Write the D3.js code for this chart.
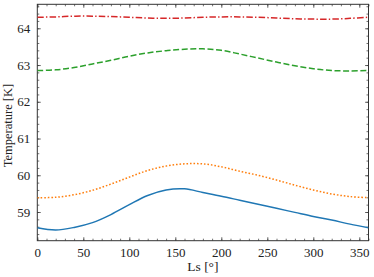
<!DOCTYPE html>
<html>
<head>
<meta charset="utf-8">
<script src="https://cdn.jsdelivr.net/npm/d3@7"></script>
<style>
  body { margin: 0; background: #fff; }
</style>
</head>
<body>
<div id="chart"></div>
<script>
// Values
const ls = [0, 20, 40, 60, 80, 100, 120, 140, 160, 180, 200, 220, 240, 260, 280, 300, 320, 340, 360]
const blue = [58.57, 58.51, 58.58, 58.71, 58.93, 59.20, 59.45, 59.60, 59.63, 59.53, 59.43, 59.32, 59.21, 59.10, 58.99, 58.88, 58.78, 58.67, 58.57]
const orange = [59.39, 59.40, 59.47, 59.59, 59.76, 59.95, 60.13, 60.25, 60.31, 60.31, 60.23, 60.11, 60.00, 59.87, 59.73, 59.60, 59.49, 59.42, 59.39]
const green = [62.85, 62.87, 62.93, 63.03, 63.13, 63.24, 63.33, 63.39, 63.43, 63.44, 63.40, 63.30, 63.19, 63.08, 62.98, 62.90, 62.85, 62.84, 62.85]
const red = [64.30, 64.31, 64.33, 64.33, 64.32, 64.30, 64.28, 64.27, 64.28, 64.30, 64.31, 64.31, 64.30, 64.28, 64.26, 64.25, 64.25, 64.27, 64.30]
const xTicks = [0, 50, 100, 150, 200, 250, 300, 350]
const yTicks = [59, 60, 61, 62, 63, 64]

const series = [
  { values: blue, color: '#1f77b4', dash: null },
  { values: orange, color: '#ff7f0e', dash: '1.6,1.9' },
  { values: green, color: '#2ca02c', dash: '6,2.6' },
  { values: red, color: '#d62728', dash: '6.5,2.2,1.4,2.2' }
]

const FONT = 'Liberation Serif'

let width = 374, height = 277
let margin = { top: 4.3, right: 5.5, bottom: 36.3, left: 37.3 },
    w = width - margin.left - margin.right,
    h = height - margin.top - margin.bottom

let svg = d3.select('#chart').append('svg')
    .attr('width', width)
    .attr('height', height)
    .attr('font-family', FONT)

let g = svg.append('g')
    .attr('transform', 'translate(' + margin.left + ',' + margin.top + ')')

let xScale = d3.scaleLinear().domain([0, 360]).range([0, w])
let yScale = d3.scaleLinear().domain([58.219, 64.653]).range([h, 0])

let xMinor = d3.range(0, 361, 10)
let yMinor = d3.range(58.4, 64.65, 0.2)

// Axes with inward ticks on all four sides
function styleAxis(sel) {
  sel.attr('font-family', FONT).attr('font-size', 13)
  sel.select('.domain').remove()
  sel.selectAll('.tick line').attr('stroke', '#333').attr('stroke-width', 0.7)
  sel.selectAll('text').attr('fill', '#222')
}

function addAxis(axisFn, scale, ticks, size, transform, labels) {
  let ax = axisFn(scale).tickValues(ticks).tickSize(-size).tickPadding(labels ? 7 : 0)
  ax.tickFormat(labels ? d3.format('d') : '')
  g.append('g').attr('transform', transform).call(ax).call(styleAxis)
}

addAxis(d3.axisBottom, xScale, xMinor, 2, 'translate(0,' + h + ')', false)
addAxis(d3.axisBottom, xScale, xTicks, 3.5, 'translate(0,' + h + ')', true)
addAxis(d3.axisTop, xScale, xMinor, 2, 'translate(0,0)', false)
addAxis(d3.axisTop, xScale, xTicks, 3.5, 'translate(0,0)', false)
addAxis(d3.axisLeft, yScale, yMinor, 2, 'translate(0,0)', false)
addAxis(d3.axisLeft, yScale, yTicks, 3.5, 'translate(0,0)', true)
addAxis(d3.axisRight, yScale, yMinor, 2, 'translate(' + w + ',0)', false)
addAxis(d3.axisRight, yScale, yTicks, 3.5, 'translate(' + w + ',0)', false)

// Plot frame
g.append('rect')
  .attr('width', w)
  .attr('height', h)
  .attr('fill', 'none')
  .attr('stroke', '#333')
  .attr('stroke-width', 1)

// Lines
let clip = g.append('clipPath').attr('id', 'clip')
clip.append('rect').attr('width', w).attr('height', h)

let line = d3.line()
    .x((d, i) => xScale(ls[i]))
    .y(d => yScale(d))
    .curve(d3.curveCatmullRom)

series.forEach(s => {
  g.append('path')
    .datum(s.values)
    .attr('clip-path', 'url(#clip)')
    .attr('fill', 'none')
    .attr('stroke', s.color)
    .attr('stroke-width', 1.5)
    .attr('stroke-dasharray', s.dash)
    .attr('d', line)
})

// Axis titles
g.append('text')
  .attr('x', w / 2)
  .attr('y', h + 30)
  .attr('text-anchor', 'middle')
  .attr('font-family', FONT)
  .attr('font-size', 13.5)
  .attr('fill', '#222')
  .text('Ls [°]')

g.append('text')
  .attr('transform', 'translate(' + (-25.3) + ',' + (h / 2 + 3) + ') rotate(-90)')
  .attr('text-anchor', 'middle')
  .attr('font-family', FONT)
  .attr('font-size', 12.5)
  .attr('fill', '#222')
  .text('Temperature [K]')
</script>
</body>
</html>
